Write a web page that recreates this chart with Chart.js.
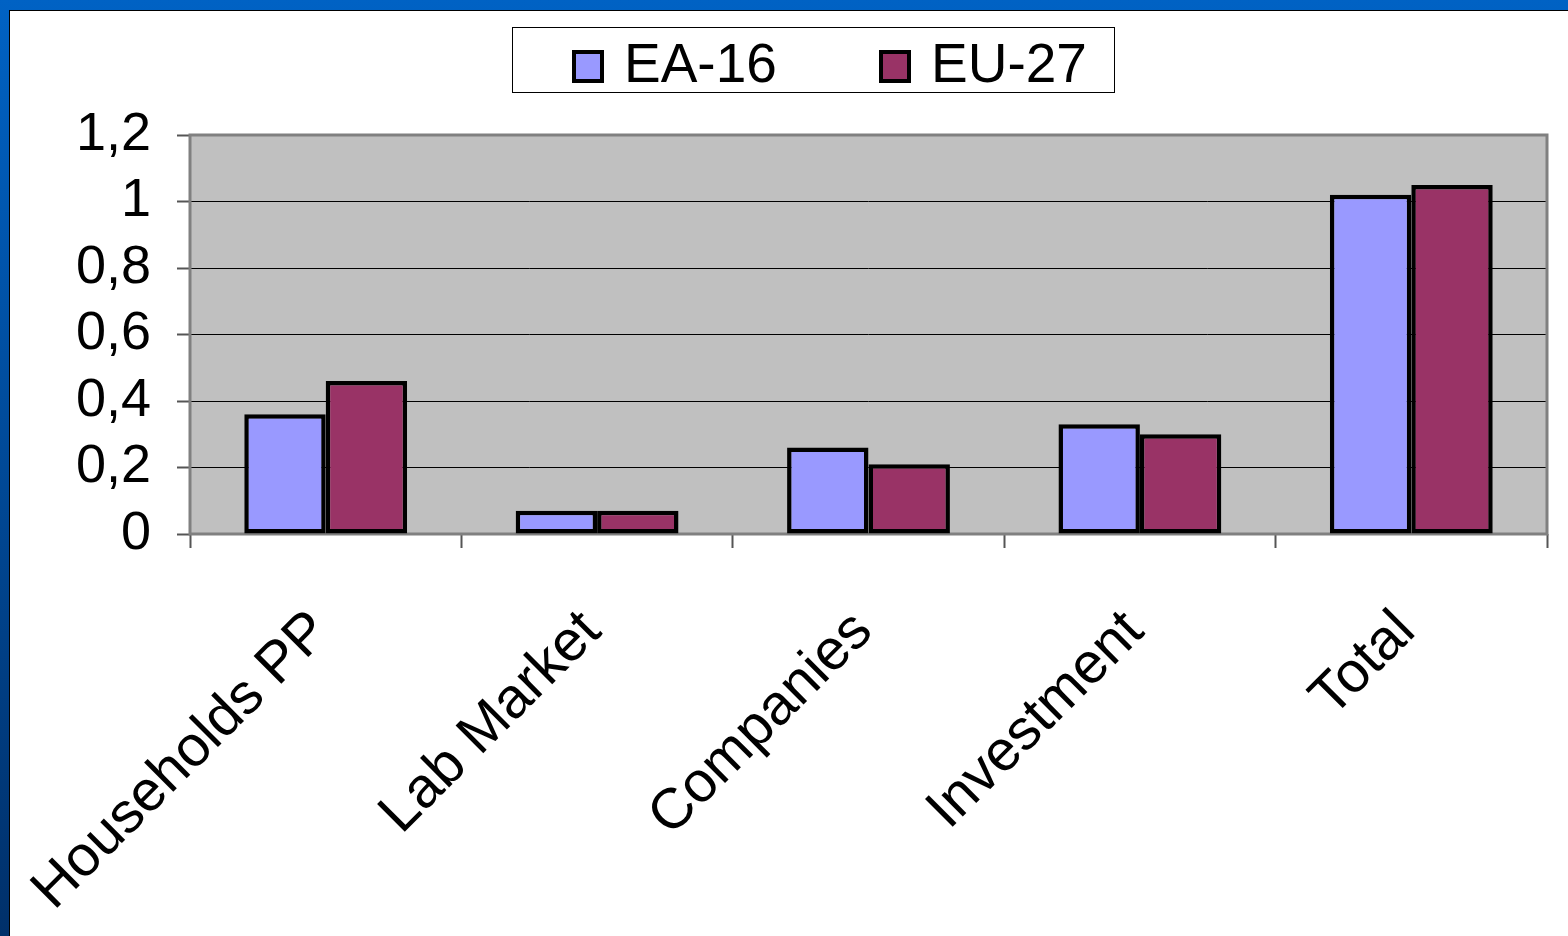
<!DOCTYPE html>
<html>
<head>
<meta charset="utf-8">
<title>EA-16 / EU-27</title>
<script src="https://cdn.jsdelivr.net/npm/chart.js@4"></script>
<style>
  html, body {
    margin: 0;
    padding: 0;
    width: 1568px;
    height: 936px;
    overflow: hidden;
    background: linear-gradient(to bottom, #0062c4, #00306a);
    font-family: "Liberation Sans", Arial, sans-serif;
  }
  #frame {
    position: absolute;
    left: 9px;
    top: 10px;
    width: 1559px;
    height: 926px;
    background: #ffffff;
    border-top: 1px solid #000;
    border-left: 1px solid #000;
    box-sizing: border-box;
  }
  #chart {
    position: absolute;
    left: 0;
    top: 0;
  }
  #legend {
    position: absolute;
    left: 502px;
    top: 16px;
    width: 603px;
    height: 66px;
    box-sizing: border-box;
    border: 1px solid #000;
    background: #fff;
    padding-left: 59px;
    display: flex;
    align-items: center;
    overflow: hidden;
  }
  .item {
    display: flex;
    align-items: center;
    flex: 0 0 auto;
    width: 307px;
    margin-top: 6px;
  }
  .swatch {
    width: 32px;
    height: 33px;
    box-sizing: border-box;
    border: 4px solid #000;
    margin-right: 20px;
    margin-top: 6px;
  }
  .label {
    font-size: 55px;
    line-height: 1;
    color: #000;
  }
</style>
</head>
<body>
<div id="frame">
  <canvas id="chart" width="1558" height="925"></canvas>
  <div id="legend"></div>
</div>
<script>
// data
var categories = ["Households PP", "Lab Market", "Companies", "Investment", "Total"];
var seriesNames = ["EA-16", "EU-27"];
var ea16 = [0.36, 0.07, 0.26, 0.33, 1.02];
var eu27 = [0.46, 0.07, 0.21, 0.30, 1.05];
var seriesColors = ["#9999FF", "#993366"];

var FONT = "'Liberation Sans', Arial, sans-serif";

// gray plot area with darker frame
const plotBackground = {
  id: "plotBackground",
  beforeDraw(chart) {
    const { ctx, chartArea: a } = chart;
    ctx.save();
    ctx.fillStyle = "#C0C0C0";
    ctx.fillRect(a.left, a.top, a.right - a.left, a.bottom - a.top);
    ctx.restore();
  },
  beforeDatasetsDraw(chart) {
    const { ctx, chartArea: a } = chart;
    ctx.save();
    ctx.strokeStyle = "#808080";
    ctx.lineWidth = 3;
    ctx.strokeRect(a.left, a.top, a.right - a.left, a.bottom - a.top);
    ctx.restore();
  },
};

function formatTick(value) {
  return Number(value.toFixed(1)).toString().replace(".", ",");
}

var ctx = document.getElementById("chart").getContext("2d");
var chart = new Chart(ctx, {
  type: "bar",
  data: {
    labels: categories,
    datasets: [
      {
        label: seriesNames[0],
        data: ea16,
        backgroundColor: seriesColors[0],
        borderColor: "#000",
        borderWidth: 4.5,
        borderSkipped: false,
      },
      {
        label: seriesNames[1],
        data: eu27,
        backgroundColor: seriesColors[1],
        borderColor: "#000",
        borderWidth: 4.5,
        borderSkipped: false,
      },
    ],
  },
  options: {
    responsive: false,
    animation: false,
    layout: {
      padding: { top: 124, right: 21, bottom: 0, left: 0 },
    },
    datasets: {
      bar: {
        barPercentage: 1,
        categoryPercentage: 0.6,
      },
    },
    plugins: {
      legend: { display: false },
      tooltip: { enabled: false },
    },
    scales: {
      x: {
        border: { display: false },
        grid: {
          offset: true,
          drawOnChartArea: false,
          tickLength: 14,
          tickColor: "#555",
          tickWidth: 2,
        },
        ticks: {
          autoSkip: false,
          maxRotation: 45,
          minRotation: 45,
          padding: 50,
          labelOffset: -5,
          color: "#000",
          font: { family: FONT, size: 57 },
        },
        afterFit: function (scale) {
          scale.height = 402;
          scale.paddingLeft = 0;
          scale.paddingRight = 0;
        },
      },
      y: {
        min: 0,
        max: 1.2,
        border: { display: false },
        grid: {
          color: "#000",
          lineWidth: 1,
          tickLength: 13,
          tickColor: "#555",
          tickWidth: 2,
        },
        ticks: {
          stepSize: 0.2,
          autoSkip: false,
          padding: 26,
          color: "#000",
          font: { family: FONT, size: 54 },
          callback: formatTick,
        },
        afterFit: function (scale) {
          scale.width = 180;
        },
      },
    },
  },
  plugins: [plotBackground],
});

// html legend with a box around it, built from the datasets
var legend = document.getElementById("legend");
chart.data.datasets.forEach(function (ds) {
  var item = document.createElement("div");
  item.className = "item";
  var sw = document.createElement("span");
  sw.className = "swatch";
  sw.style.background = ds.backgroundColor;
  var txt = document.createElement("span");
  txt.className = "label";
  txt.textContent = ds.label;
  item.appendChild(sw);
  item.appendChild(txt);
  legend.appendChild(item);
});
</script>
</body>
</html>
